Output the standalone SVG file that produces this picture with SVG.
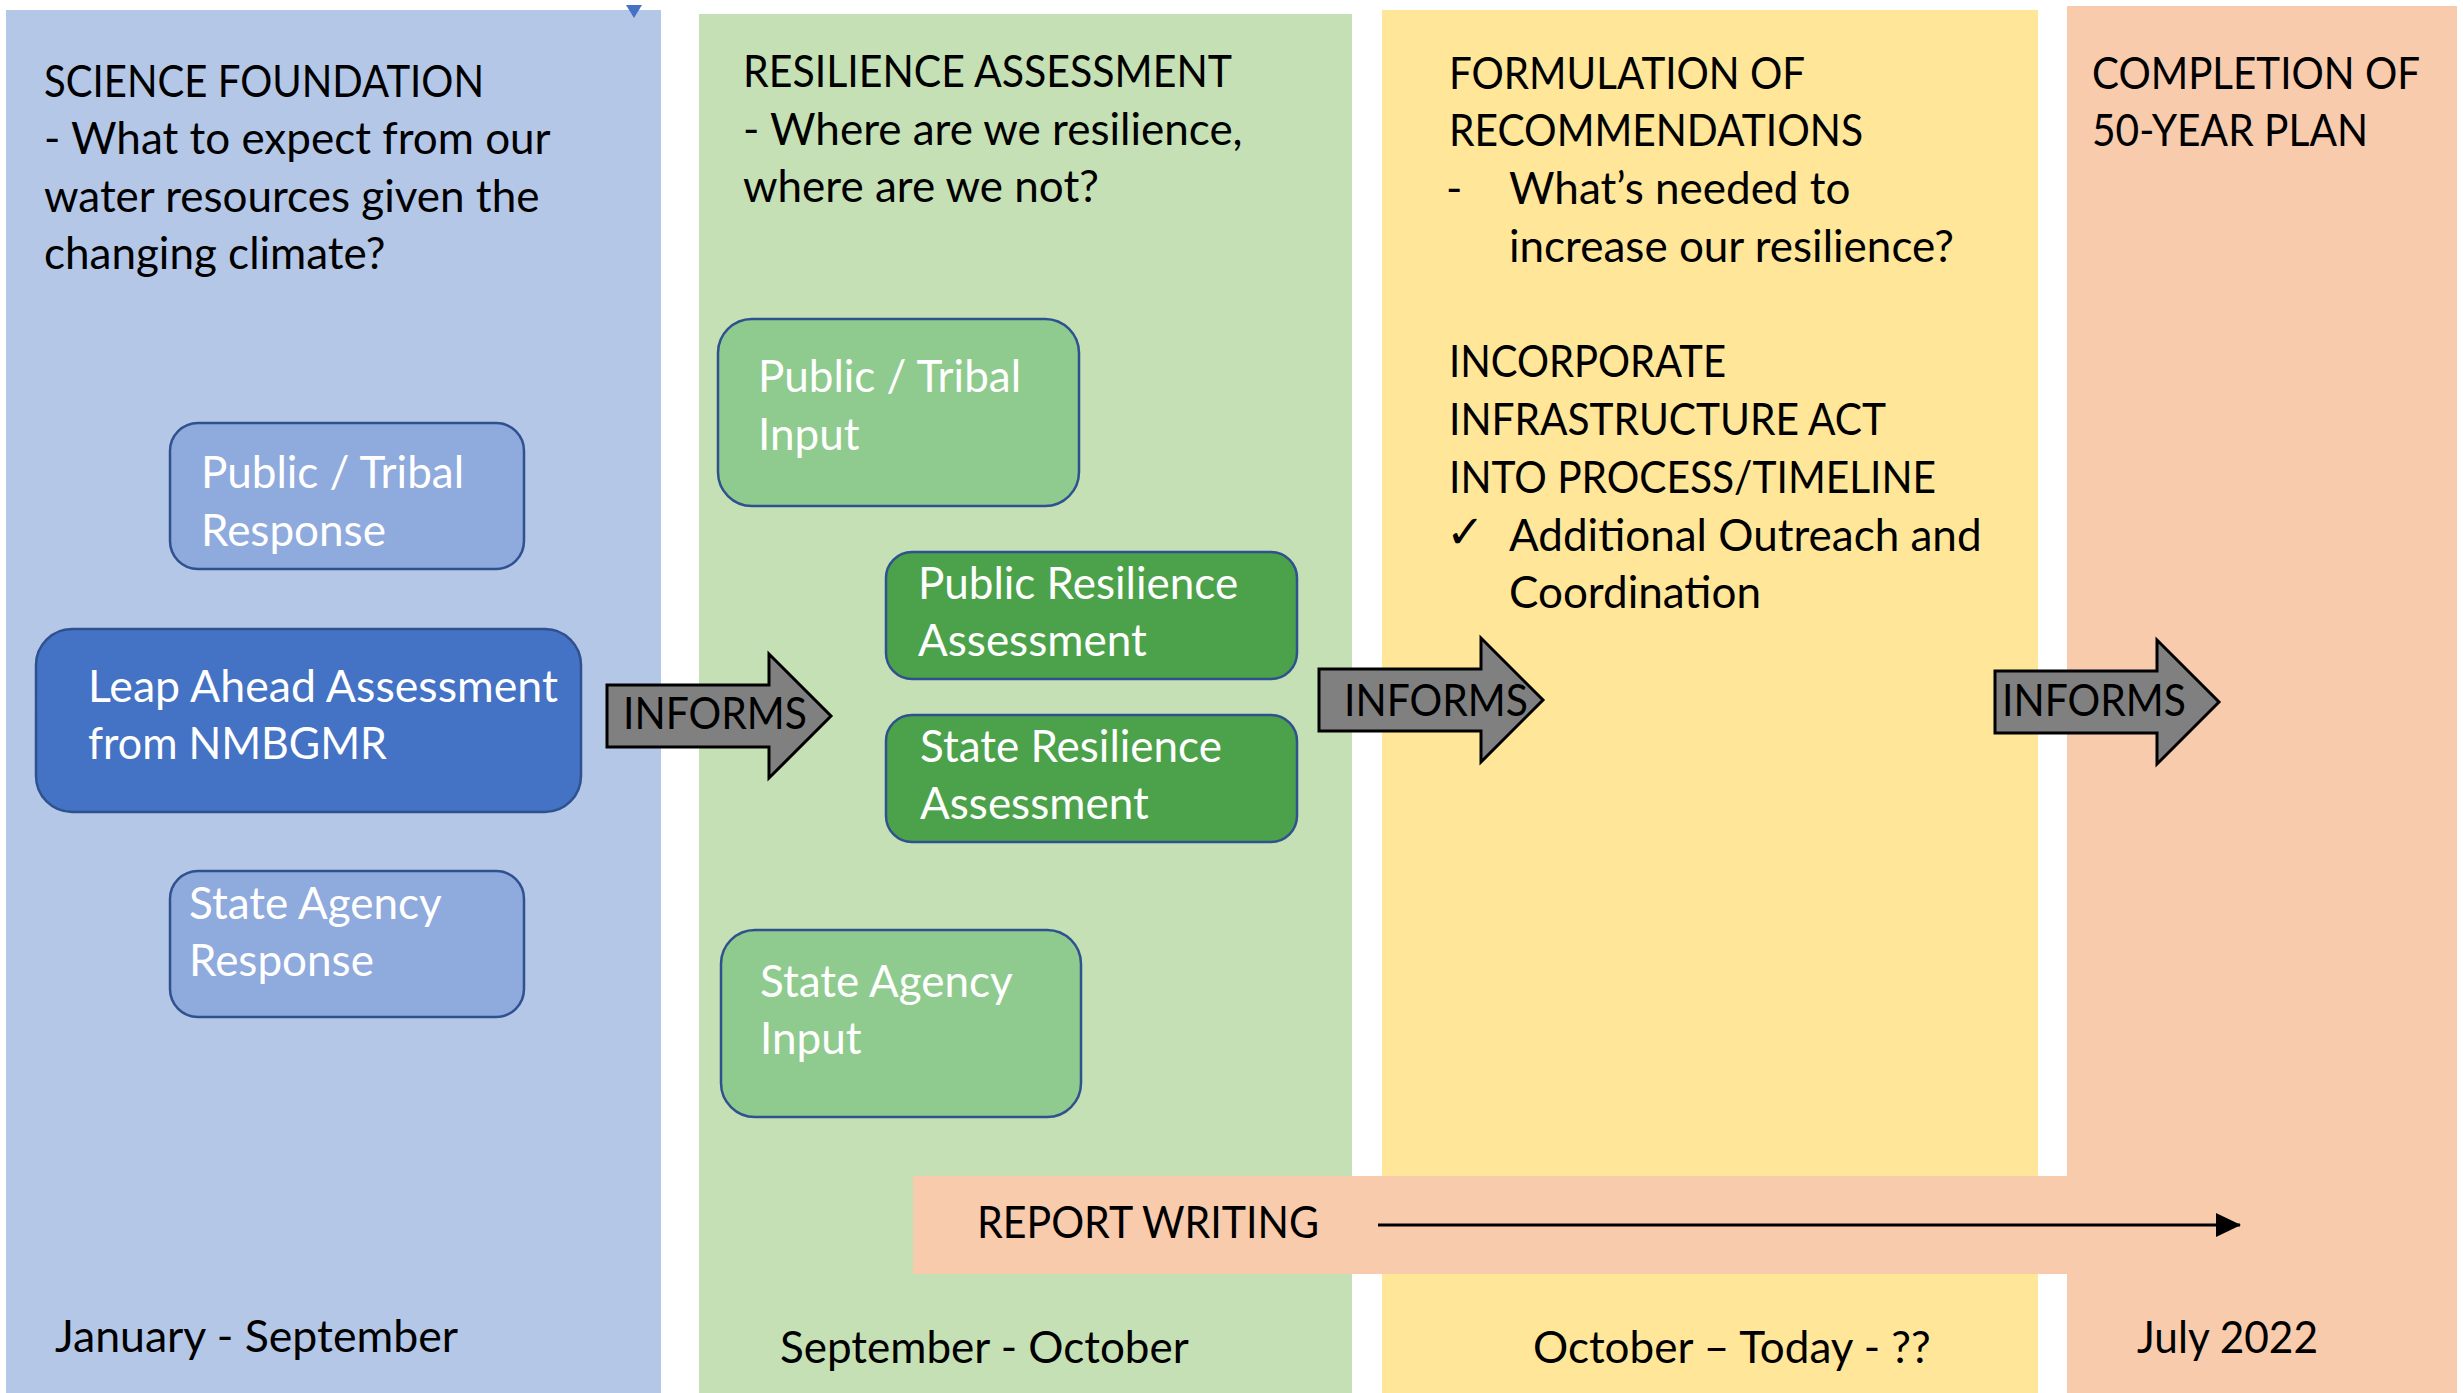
<svg xmlns="http://www.w3.org/2000/svg" width="2463" height="1393" viewBox="0 0 2463 1393">
<defs>
<style>
text{font-family:Lato,"Open Sans","Liberation Sans",sans-serif;font-size:44px}
.dk{fill:#000}
.wt{fill:#fff}
.lb{fill:#8FAADC;stroke:#2F528F;stroke-width:2.5}
.db{fill:#4472C4;stroke:#2F528F;stroke-width:2.5}
.lg{fill:#8FCB8E;stroke:#2F528F;stroke-width:2.5}
.dg{fill:#4CA24B;stroke:#2F528F;stroke-width:2.5}
.arr{fill:#808080;stroke:#000;stroke-width:3}
</style>
<marker id="ah" markerWidth="26" markerHeight="26" refX="24" refY="12" orient="auto" markerUnits="userSpaceOnUse" viewBox="0 0 26 24">
<path d="M0,0 L25,12 L0,24 z" fill="#000"/>
</marker>
</defs>
<rect width="2463" height="1393" fill="#fff"/>
<g id="panels">
<rect id="panel-science" x="6" y="10" width="655" height="1383" fill="#B4C7E7"/>
<rect id="panel-resilience" x="699" y="14" width="653" height="1379" fill="#C5E0B4"/>
<rect id="panel-formulation" x="1382" y="10" width="656" height="1383" fill="#FFE699"/>
<rect id="panel-completion" x="2067" y="6" width="390" height="1387" fill="#F8CBAD"/>
<polygon points="626,5 642,5 634,18" fill="#4472C4"/>
</g>
<g id="titles" class="dk">
<text x="44" y="97" textLength="440" lengthAdjust="spacingAndGlyphs">SCIENCE FOUNDATION</text>
<text x="44" y="154">- What to expect from our</text>
<text x="44" y="212">water resources given the</text>
<text x="44" y="269">changing climate?</text>
<text x="743" y="87" textLength="489" lengthAdjust="spacingAndGlyphs">RESILIENCE ASSESSMENT</text>
<text x="743" y="145">- Where are we resilience,</text>
<text x="743" y="202">where are we not?</text>
<text x="1449" y="89" textLength="356" lengthAdjust="spacingAndGlyphs">FORMULATION OF</text>
<text x="1449" y="146" textLength="414" lengthAdjust="spacingAndGlyphs">RECOMMENDATIONS</text>
<text x="1446" y="204">-</text>
<text x="1509" y="204">What’s needed to</text>
<text x="1509" y="262">increase our resilience?</text>
<text x="1449" y="377" textLength="277" lengthAdjust="spacingAndGlyphs">INCORPORATE</text>
<text x="1449" y="435" textLength="437" lengthAdjust="spacingAndGlyphs">INFRASTRUCTURE ACT</text>
<text x="1449" y="493" textLength="487" lengthAdjust="spacingAndGlyphs">INTO PROCESS/TIMELINE</text>
<text x="1446" y="548" style="font-family:'DejaVu Sans',sans-serif;font-size:46px">✓</text>
<text x="1509" y="551">Additional Outreach and</text>
<text x="1509" y="608">Coordination</text>
<text x="2092" y="89" textLength="328" lengthAdjust="spacingAndGlyphs">COMPLETION OF</text>
<text x="2092" y="146" textLength="276" lengthAdjust="spacingAndGlyphs">50-YEAR PLAN</text>
</g>
<g id="node-public-tribal-response">
<rect class="lb" x="170" y="423" width="354" height="146" rx="28"/>
<text class="wt" x="201" y="488">Public / Tribal</text>
<text class="wt" x="201" y="546">Response</text>
</g>
<g id="node-leap-ahead">
<rect class="db" x="36" y="629" width="545" height="183" rx="36"/>
<text class="wt" x="88" y="702" textLength="470" lengthAdjust="spacingAndGlyphs">Leap Ahead Assessment</text>
<text class="wt" x="88" y="759" textLength="299" lengthAdjust="spacingAndGlyphs">from NMBGMR</text>
</g>
<g id="node-state-agency-response">
<rect class="lb" x="170" y="871" width="354" height="146" rx="28"/>
<text class="wt" x="189" y="919">State Agency</text>
<text class="wt" x="189" y="976">Response</text>
</g>
<g id="node-public-tribal-input">
<rect class="lg" x="718" y="319" width="361" height="187" rx="34"/>
<text class="wt" x="758" y="392">Public / Tribal</text>
<text class="wt" x="758" y="450">Input</text>
</g>
<g id="node-public-resilience">
<rect class="dg" x="886" y="552" width="411" height="127" rx="26"/>
<text class="wt" x="918" y="599">Public Resilience</text>
<text class="wt" x="918" y="656">Assessment</text>
</g>
<g id="node-state-resilience">
<rect class="dg" x="886" y="715" width="411" height="127" rx="26"/>
<text class="wt" x="920" y="762">State Resilience</text>
<text class="wt" x="920" y="819">Assessment</text>
</g>
<g id="node-state-agency-input">
<rect class="lg" x="721" y="930" width="360" height="187" rx="34"/>
<text class="wt" x="760" y="997">State Agency</text>
<text class="wt" x="760" y="1054">Input</text>
</g>
<g id="report-writing">
<rect x="913" y="1176" width="1154" height="98" fill="#F8CBAD"/>
<text class="dk" x="977" y="1238" textLength="342" lengthAdjust="spacingAndGlyphs">REPORT WRITING</text>
</g>
<g id="connectors">
<g id="informs-1">
<polygon class="arr" points="607,685 769,685 769,654 831,716 769,778 769,747 607,747"/>
<text class="dk" x="623" y="729" textLength="184" lengthAdjust="spacingAndGlyphs">INFORMS</text>
</g>
<g id="informs-2">
<polygon class="arr" points="1319,669 1481,669 1481,638 1543,700 1481,762 1481,731 1319,731"/>
<text class="dk" x="1344" y="716" textLength="184" lengthAdjust="spacingAndGlyphs">INFORMS</text>
</g>
<g id="informs-3">
<polygon class="arr" points="1995,671 2157,671 2157,640 2219,702 2157,764 2157,733 1995,733"/>
<text class="dk" x="2002" y="716" textLength="184" lengthAdjust="spacingAndGlyphs">INFORMS</text>
</g>
<line x1="1378" y1="1225" x2="2240" y2="1225" stroke="#000" stroke-width="3" marker-end="url(#ah)"/>
</g>
<g id="dates" class="dk">
<text x="55" y="1352" textLength="403" lengthAdjust="spacingAndGlyphs">January - September</text>
<text x="780" y="1363">September - October</text>
<text x="1533" y="1363">October – Today - ??</text>
<text x="2137" y="1353" textLength="181" lengthAdjust="spacingAndGlyphs">July 2022</text>
</g>
</svg>
